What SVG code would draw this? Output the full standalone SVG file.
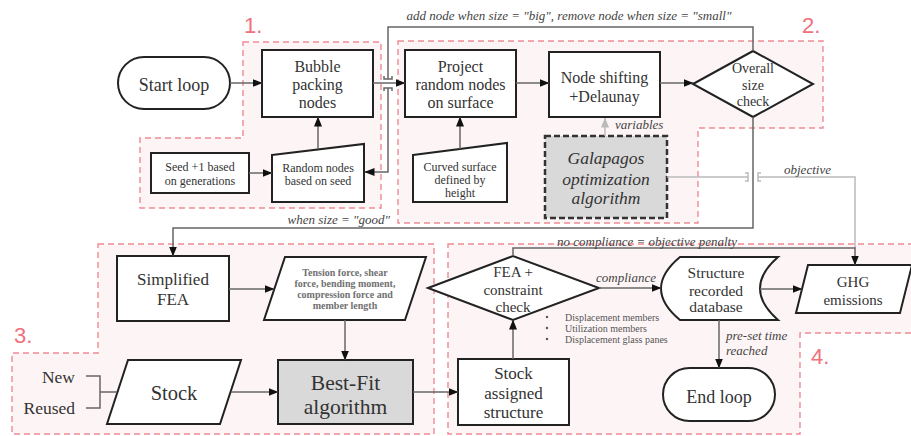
<svg xmlns="http://www.w3.org/2000/svg" width="911" height="436" viewBox="0 0 911 436">
<defs>
<marker id="ah" markerWidth="10" markerHeight="8" refX="9.5" refY="4" orient="auto" markerUnits="userSpaceOnUse"><path d="M0,0 L10,4 L0,8 z" fill="#111"/></marker>
<marker id="ahl" markerWidth="10" markerHeight="8" refX="9.5" refY="4" orient="auto" markerUnits="userSpaceOnUse"><path d="M0,0 L10,4 L0,8 z" fill="#bbb"/></marker>
<style>
.region{fill:#fdf5f5;stroke:#f08a94;stroke-width:1.4;stroke-dasharray:6 4}
.rlabel{font-family:"Liberation Sans",Arial,sans-serif;font-size:22px;fill:#f0707c}
.node{fill:#fff;stroke:#222;stroke-width:2}
.gray{fill:#d9d9d9}
.t{font-family:"Liberation Serif","Times New Roman",serif;fill:#333;text-anchor:middle}
.lbl{font-family:"Liberation Serif","Times New Roman",serif;font-style:italic;fill:#444;font-size:13px}
.c{fill:none;stroke:#666;stroke-width:1.5}
.cl{fill:none;stroke:#bbb;stroke-width:1.5}
.small{font-family:"Liberation Serif","Times New Roman",serif;fill:#555;font-size:10px}
</style>
</defs>
<rect width="911" height="436" fill="#fff"/>

<g id="regions">
<path class="region" d="M243,42 H381 V208 H140 V138 H243 Z"/>
<path class="region" d="M398,41 H823 V128 H698 V223 H398 Z"/>
<path class="region" d="M98,244 H434 V434 H12 V353 H98 Z"/>
<path class="region" d="M448,244 H915 V333 H800 V434 H448 Z"/>
<text class="rlabel" x="244" y="33">1.</text>
<text class="rlabel" x="802" y="33">2.</text>
<text class="rlabel" x="14" y="343">3.</text>
<text class="rlabel" x="811" y="364">4.</text>
</g>

<g id="start-loop">
<rect class="node" x="118" y="57" width="112" height="52" rx="26"/>
<text class="t" x="174" y="91" font-size="18">Start loop</text>
</g>
<g id="bubble-packing">
<rect class="node" x="262" y="50" width="111" height="67"/>
<text class="t" font-size="16"><tspan x="317.5" y="71.5">Bubble</tspan><tspan x="317.5" y="89.5">packing</tspan><tspan x="317.5" y="107.5">nodes</tspan></text>
</g>
<g id="seed">
<rect class="node" x="151" y="153" width="98" height="40"/>
<text class="t" font-size="12"><tspan x="200" y="171">Seed +1 based</tspan><tspan x="200" y="185">on generations</tspan></text>
</g>
<g id="random-nodes">
<path class="node" d="M272,155 L364,144 V202 H272 Z"/>
<text class="t" font-size="12"><tspan x="318" y="172">Random nodes</tspan><tspan x="318" y="185">based on seed</tspan></text>
</g>
<g id="project">
<rect class="node" x="405" y="50" width="111" height="67"/>
<text class="t" font-size="16"><tspan x="460.5" y="72">Project</tspan><tspan x="460.5" y="90">random nodes</tspan><tspan x="460.5" y="107.5">on surface</tspan></text>
</g>
<g id="curved-surface">
<path class="node" d="M413,155 L507,143 V202 H413 Z"/>
<text class="t" font-size="12"><tspan x="460" y="171">Curved surface</tspan><tspan x="460" y="184">defined by</tspan><tspan x="460" y="197">height</tspan></text>
</g>
<g id="node-shifting">
<rect class="node" x="549" y="52" width="111" height="65"/>
<text class="t" font-size="16"><tspan x="604.5" y="82.5">Node shifting</tspan><tspan x="604.5" y="101.5">+Delaunay</tspan></text>
</g>
<g id="size-check">
<polygon class="node" points="693,84 753,51 813,84 753,117"/>
<text class="t" font-size="14"><tspan x="753" y="73">Overall</tspan><tspan x="753" y="90">size</tspan><tspan x="753" y="106">check</tspan></text>
</g>
<g id="galapagos">
<rect class="gray" x="545" y="136" width="122" height="82" stroke="#333" stroke-width="2.5" stroke-dasharray="6 3"/>
<text class="t" font-size="17.5" font-style="italic"><tspan x="606" y="164">Galapagos</tspan><tspan x="606" y="185">optimization</tspan><tspan x="606" y="204">algorithm</tspan></text>
</g>
<g id="simplified-fea">
<rect class="node" x="117" y="256" width="112" height="65"/>
<text class="t" font-size="17"><tspan x="173" y="285">Simplified</tspan><tspan x="173" y="305">FEA</tspan></text>
</g>
<g id="forces">
<path class="node" d="M285,257 H426 L405,320 H264 Z"/>
<text class="small" text-anchor="middle" font-weight="bold" fill="#707070" style="fill:#707070"><tspan x="345" y="275.5">Tension force, shear</tspan><tspan x="345" y="286.5">force, bending moment,</tspan><tspan x="345" y="297.5">compression force and</tspan><tspan x="345" y="309">member length</tspan></text>
</g>
<g id="new-reused">
<text class="t" font-size="17.5"><tspan x="75" y="383" text-anchor="end">New</tspan><tspan x="75" y="414" text-anchor="end">Reused</tspan></text>
</g>
<g id="stock">
<path class="node" d="M128,360 H241 L220,424 H107 Z"/>
<text class="t" x="174" y="400" font-size="20.5">Stock</text>
</g>
<g id="best-fit">
<rect class="node gray" x="278" y="360" width="135" height="64"/>
<text class="t" font-size="21.5"><tspan x="345.5" y="389.5">Best-Fit</tspan><tspan x="345.5" y="413.5">algorithm</tspan></text>
</g>
<g id="stock-assigned">
<rect class="node" x="458" y="359" width="111" height="66"/>
<text class="t" font-size="17"><tspan x="513.5" y="379">Stock</tspan><tspan x="513.5" y="399">assigned</tspan><tspan x="513.5" y="418">structure</tspan></text>
</g>
<g id="fea-check">
<polygon class="node" points="428,288 513,256 599,288 513,320"/>
<text class="t" font-size="15"><tspan x="513" y="277">FEA +</tspan><tspan x="513" y="295">constraint</tspan><tspan x="513" y="312">check</tspan></text>
<g class="small">
<circle cx="547" cy="317" r="1.2" fill="#555"/><circle cx="547" cy="328" r="1.2" fill="#555"/><circle cx="547" cy="339" r="1.2" fill="#555"/>
<text x="565" y="320.5">Displacement members</text>
<text x="565" y="331.5">Utilization members</text>
<text x="565" y="342.5">Displacement glass panes</text>
</g>
</g>
<g id="database">
<path class="node" d="M680,257 H778 Q742,288.5 778,320 H680 Q642,288.5 680,257 Z"/>
<text class="t" font-size="15.5"><tspan x="716" y="277.5">Structure</tspan><tspan x="716" y="295.5">recorded</tspan><tspan x="716" y="311.5">database</tspan></text>
</g>
<g id="ghg">
<path class="node" d="M808,265 H912 L900,313 H796 Z"/>
<text class="t" font-size="15"><tspan x="853" y="287">GHG</tspan><tspan x="853" y="305">emissions</tspan></text>
</g>
<g id="end-loop">
<rect class="node" x="663" y="368" width="112" height="53" rx="26.5"/>
<text class="t" x="719" y="403" font-size="18">End loop</text>
</g>

<g id="connectors">
<path class="c" marker-end="url(#ah)" d="M230,83 H262"/>
<path class="c" marker-end="url(#ah)" d="M373,83 H405"/>
<path class="c" marker-end="url(#ah)" d="M516,83 H549"/>
<path class="c" marker-end="url(#ah)" d="M660,83 H693"/>
<path class="c" marker-end="url(#ah)" d="M318,149 V117"/>
<path class="c" marker-end="url(#ah)" d="M249,173 H272"/>
<path class="c" marker-end="url(#ah)" d="M460,149 V117"/>
<path class="c" d="M753,51 V27 H388 V79 M384,76 V79 H392 V76 M384,91 V88 H392 V91"/>
<path class="c" marker-end="url(#ah)" d="M388,88 V172 H365"/>
<path class="cl" marker-end="url(#ahl)" d="M605,136 V118"/>
<path class="cl" d="M667,177 H748 M745,173 H748 V181 H745 M758,177 H855 V248 M761,173 H758 V181 H761"/>
<path class="c" marker-end="url(#ah)" d="M753,117 V228 H173 V256"/>
<path class="c" marker-end="url(#ah)" d="M229,289 H274"/>
<path class="c" marker-end="url(#ah)" d="M345,320 V360"/>
<path class="c" marker-end="url(#ah)" d="M231,392 H278"/>
<path class="c" marker-end="url(#ah)" d="M413,392 H458"/>
<path class="c" marker-end="url(#ah)" d="M513,359 V320"/>
<path class="c" marker-end="url(#ah)" d="M599,288 H661"/>
<path class="c" marker-end="url(#ah)" d="M513,256 V248 H855 V265"/>
<path class="c" marker-end="url(#ah)" d="M760,289 H802"/>
<path class="c" marker-end="url(#ah)" d="M719,320 V368"/>
<path class="c" d="M86,376 H100 V408 H86 M100,392 H117"/>
<text class="lbl" x="569" y="20" text-anchor="middle">add node when size = "big", remove node when size = "small"</text>
<text class="lbl" x="390" y="224" text-anchor="end">when size = "good"</text>
<text class="lbl" x="615" y="129">variables</text>
<text class="lbl" x="784" y="174">objective</text>
<text class="lbl" x="647" y="246" text-anchor="middle">no compliance = objective penalty</text>
<text class="lbl" x="626" y="282" text-anchor="middle">compliance</text>
<text class="lbl"><tspan x="726" y="340">pre-set time</tspan><tspan x="726" y="355">reached</tspan></text>
</g>
</svg>
